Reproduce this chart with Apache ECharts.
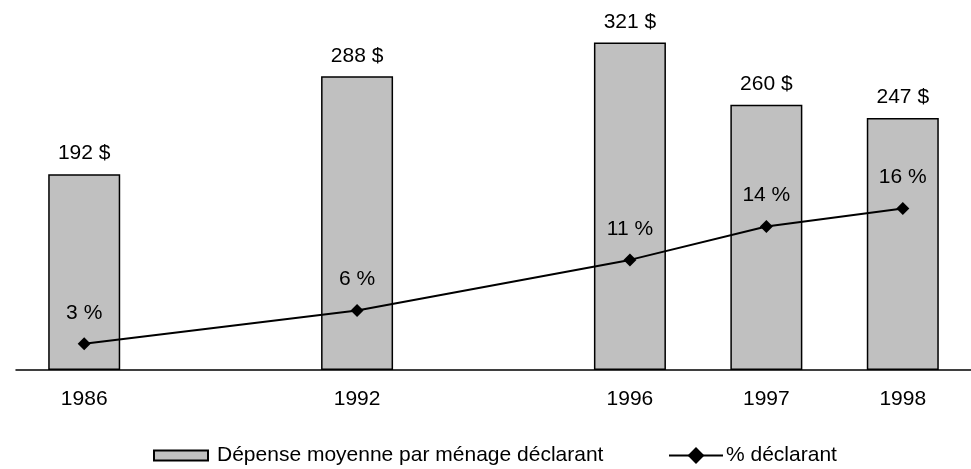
<!DOCTYPE html>
<html>
<head>
<meta charset="utf-8">
<script src="https://cdn.jsdelivr.net/npm/echarts@6/dist/echarts.min.js"></script>
<style>
  html, body { margin: 0; padding: 0; background: #fff; }
  #chart { width: 971px; height: 469px; }
</style>
</head>
<body>
<div id="chart"></div>
<script>
// years on the axis, blanks keep the uneven spacing of the original
const years = ['1986', '', '1992', '', '1996', '1997', '1998']
const spending = [192, '-', 288, '-', 321, 260, 247]
const declaring = [2.6, null, 5.9, null, 10.9, 14.2, 16.0]

const barName = 'Dépense moyenne par ménage déclarant'
const lineName = '% déclarant'
const font = 'Liberation Sans, Arial, sans-serif'

const myChart = echarts.init(document.getElementById('chart'))
const option = {
  animation: false,
  textStyle: { fontFamily: font, fontSize: 21, color: '#000' },
  grid: { left: 16, right: 0, top: 30, bottom: 99 },
  legend: [
    {
      data: [{ name: barName, icon: 'rect' }],
      left: 153,
      top: 445,
      padding: 0,
      itemWidth: 54,
      itemHeight: 10,
      textStyle: { fontFamily: font, fontSize: 21, color: '#000', padding: [0, 0, 0, 4] },
    },
    {
      data: [lineName],
      left: 668,
      top: 445,
      padding: 0,
      itemWidth: 54,
      itemHeight: 21,
      textStyle: { fontFamily: font, fontSize: 21, color: '#000', padding: [0, 0, 0, -2] },
    },
  ],
  xAxis: {
    type: 'category',
    data: years,
    axisTick: { show: false },
    axisLine: { lineStyle: { color: '#000', width: 1.5 } },
    axisLabel: { color: '#000', fontFamily: font, fontSize: 21, margin: 19, interval: 0 },
  },
  yAxis: [
    { type: 'value', min: 0, max: 333.3, show: false },
    { type: 'value', min: 0, max: 33.66, show: false },
  ],
  series: [
    {
      name: barName,
      type: 'bar',
      data: spending,
      barWidth: 72,
      itemStyle: { color: '#c0c0c0', borderColor: '#000', borderWidth: 1.5 },
      label: {
        show: true,
        position: 'top',
        distance: 10,
        color: '#000',
        fontFamily: font,
        fontSize: 21,
        formatter: (p) => p.value + ' $',
      },
    },
    {
      name: lineName,
      type: 'line',
      yAxisIndex: 1,
      data: declaring,
      connectNulls: true,
      symbol: 'diamond',
      symbolSize: 13,
      itemStyle: { color: '#000' },
      lineStyle: { color: '#000', width: 2 },
      label: {
        show: true,
        position: 'top',
        distance: 14,
        color: '#000',
        fontFamily: font,
        fontSize: 21,
        formatter: (p) => Math.round(p.value) + ' %',
      },
    },
  ],
}
myChart.setOption(option)
</script>
</body>
</html>
